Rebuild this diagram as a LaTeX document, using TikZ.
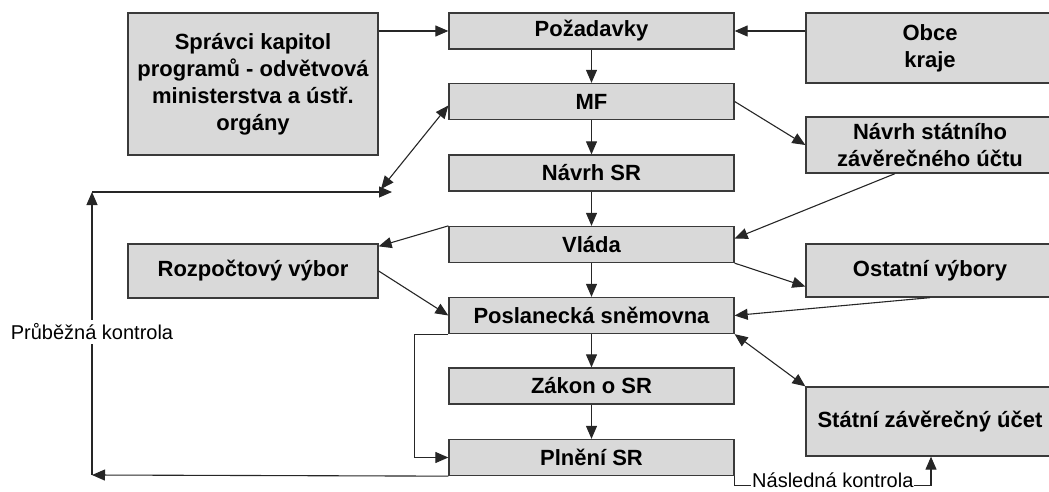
\documentclass[tikz,border=0pt]{standalone}
\usepackage{fontspec}
\setmainfont{Liberation Sans}
\usetikzlibrary{arrows.meta}
\definecolor{boxgray}{HTML}{D9D9D9}
\definecolor{edgegray}{HTML}{3A3A3A}

\begin{document}
\begin{tikzpicture}[x=1pt,y=-1pt,
        box/.style = {draw=edgegray, fill=boxgray, line width=1.3pt, inner sep=0pt, align=center, font=\bfseries\fontsize{22}{27}\selectfont},
        mid/.style = {box, minimum width=285pt, minimum height=36pt},
        side/.style = {box, minimum width=250pt},
        far/.style = {box, minimum width=248pt},
        arr/.style = {draw=black!85, line width=1.1pt, -{Triangle[length=13pt,width=11pt]}},
        both/.style = {arr, {Triangle[length=13pt,width=11pt]}-{Triangle[length=13pt,width=11pt]}},
        note/.style = {fill=white, inner xsep=1pt, inner ysep=4pt, font=\fontsize{20}{24}\selectfont}]
    \useasboundingbox (0,0) rectangle (1049,492);
    \node[mid] (poz) at (591.5,31) {Požadavky};
    \node[mid] (mf) at (591.5,101.5) {MF};
    \node[mid] (nsr) at (591.5,173) {Návrh SR};
    \node[mid] (vlada) at (591.5,244.5) {Vláda};
    \node[mid] (posl) at (591.5,315.5) {Poslanecká sněmovna};
    \node[mid] (zakon) at (591.5,386) {Zákon o SR};
    \node[mid] (pln) at (591.5,457.5) {Plnění SR};
    \node[side, minimum height=142pt] (spr) at (253,84) {Správci kapitol\\programů - odvětvová\\ministerstva a ústř.\\orgány};
    \node[side, minimum height=54pt] (rozp) at (253,271) {Rozpočtový výbor};
    \node[far, minimum height=70pt] (obce) at (930,48) {Obce\\kraje};
    \node[far, minimum height=56pt] (nszu) at (930,145) {Návrh státního\\závěrečného účtu};
    \node[far, minimum height=53pt] (ost) at (930,270.5) {Ostatní výbory};
    \node[far, minimum height=69pt] (szu) at (930,421.5) {Státní závěrečný účet};
    \draw[arr] (spr.east |- poz.west) -- (poz.west);
    \draw[arr] (obce.west |- poz.east) -- (poz.east);
    \foreach \a/\b in {poz/mf, mf/nsr, nsr/vlada, vlada/posl, posl/zakon, zakon/pln}
        \draw[arr] (\a.south) -- (\b.north);
    \draw[arr] (mf.east) -- (nszu.west);
    \draw[arr] ([xshift=-35pt]nszu.south) -- ([yshift=6pt]vlada.east);
    \draw[arr] (vlada.north west) -- ([yshift=-3pt]rozp.north east);
    \draw[arr] (vlada.south east) -- ([yshift=-16pt]ost.west);
    \draw[arr] (rozp.east) -- (posl.west);
    \draw[arr] (ost.south) -- (posl.east);
    \draw[both] (posl.south east) -- (szu.north west);
    \draw[arr] (posl.south west) -- ++(-34,0) |- (pln.west);
    \coordinate (kb) at (92,475);
    \coordinate (kt) at (92,192);
    \coordinate (ke) at (392,192);
    \coordinate (kd) at (381,189);
    \draw[arr] (pln.south west) -- (kb);
    \draw[arr] (kb) -- (kt);
    \draw[arr] (kt) -- (ke);
    \draw[both] (kd) -- ([yshift=-4pt]mf.west);
    \node[note] (prub) at (92,332) {Průběžná kontrola};
    \draw[arr] (pln.south east) -- ++(0,9) -| ([xshift=1pt]szu.south) node[note, inner ysep=0pt, anchor=base, pos=0.25, yshift=-2pt] (nasl) {Následná kontrola};
\end{tikzpicture}
\end{document}
